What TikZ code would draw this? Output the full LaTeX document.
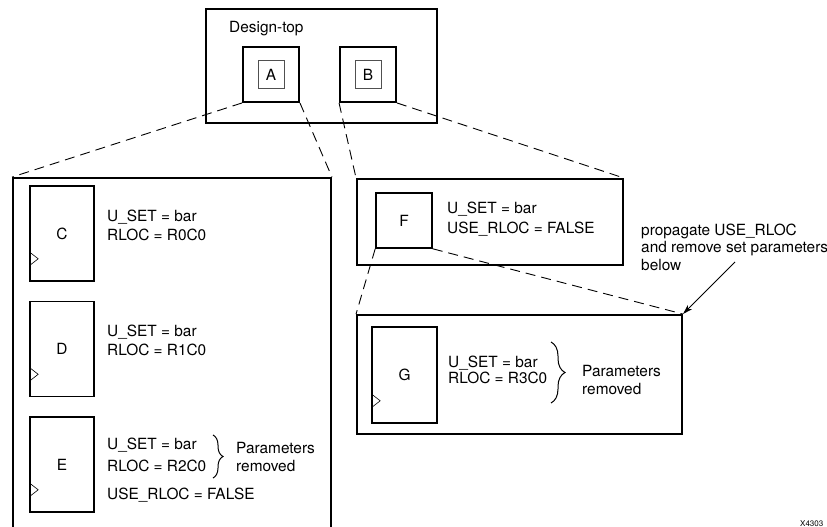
\documentclass[tikz,border=0pt]{standalone}
\usepackage{fontspec}
\setmainfont{TeX Gyre Heros}
\usetikzlibrary{positioning, arrows.meta, calc, decorations.pathreplacing}
\definecolor{LineColor}{RGB}{0,0,0}
\definecolor{InnerColor}{RGB}{80,80,80}
\tikzstyle{container} = [draw=LineColor, line width=1.9pt, rectangle, inner sep=0pt]
\tikzstyle{cell} = [draw=LineColor, line width=1.6pt, rectangle, inner sep=0pt, minimum width=64pt, minimum height=95pt, font=\fontsize{15.4}{18}\selectfont]
\tikzstyle{inst} = [draw=InnerColor, line width=1pt, rectangle, inner sep=0pt, minimum width=26pt, minimum height=27pt, font=\fontsize{15.4}{18}\selectfont]
\tikzstyle{zoomline} = [LineColor, line width=0.9pt, dash pattern=on 10pt off 6pt]
\tikzstyle{pointer} = [LineColor, line width=0.9pt, -{Stealth[length=10pt,width=6pt]}]
\tikzset{
  param/.style={anchor=base west, inner sep=0pt, font=\fontsize{15.4}{18}\selectfont},
  clock/.style={draw=LineColor, line width=0.6pt},
  curly/.style={decorate, decoration={brace, amplitude=#1}, line width=1pt}
}

\begin{document}
\begin{tikzpicture}[x=1pt, y=-1pt]
  \useasboundingbox (0,0) rectangle (827,527);

  % Design-top with instances A and B
  \node[container, minimum width=231pt, minimum height=114pt] (top) at (321.5,66) {};
  \node[param] (toplabel) at (229,33) {Design-top};
  \node[container, minimum width=56pt, minimum height=55pt] (Aout) at (271,74.5) {};
  \node[inst] (Ain) at (271,74.5) {A};
  \node[container, minimum width=56pt, minimum height=55pt] (Bout) at (368,74.5) {};
  \node[inst] (Bin) at (368,74.5) {B};

  % Contents of A
  \node[container, minimum width=318pt, minimum height=360pt] (Abox) at (172,358) {};
  \node[cell] (C) at (62,233.5) {C};
  \node[cell] (D) at (62,349) {D};
  \node[cell] (E) at (62,464.5) {E};
  \node[param] (Cset) at (107,221.5) {U\_SET = bar};
  \node[param] (Crloc) at (107,240.5) {RLOC = R0C0};
  \node[param] (Dset) at (107,336.5) {U\_SET = bar};
  \node[param] (Drloc) at (107,355.5) {RLOC = R1C0};
  \node[param] (Eset) at (107,449.5) {U\_SET = bar};
  \node[param] (Erloc) at (107,471.5) {RLOC = R2C0};
  \node[param] (Euse) at (107,499.5) {USE\_RLOC = FALSE};
  \draw[curly=10pt] (213,435) -- (213,478);
  \node[param] (Erem1) at (236,453) {Parameters};
  \node[param] (Erem2) at (236,471) {removed};

  % Contents of B
  \node[container, minimum width=266pt, minimum height=86pt] (Bbox) at (490,222) {};
  \node[cell, minimum width=56pt, minimum height=55pt] (F) at (404,220.5) {F};
  \node[param] (Fset) at (447,213) {U\_SET = bar};
  \node[param] (Fuse) at (447,233) {USE\_RLOC = FALSE};

  % Contents of F
  \node[container, minimum width=325pt, minimum height=119pt] (Fbox) at (519.5,374.5) {};
  \node[cell, minimum width=65pt, minimum height=96pt] (G) at (404.5,375) {G};
  \node[param] (Gset) at (448,367) {U\_SET = bar};
  \node[param] (Grloc) at (448,383) {RLOC = R3C0};
  \draw[curly=14pt] (551,342) -- (551,403);
  \node[param] (Grem1) at (582,376.5) {Parameters};
  \node[param] (Grem2) at (582,394) {removed};

  % Clock pins
  \foreach \c in {C,D,E,G}
    \draw[clock] ($(\c.south west)+(0,-30)$) -- ++(9,7) -- ++(-9,7);

  % Zoom lines
  \draw[zoomline] (Aout.south west) -- (Abox.north west);
  \draw[zoomline] (Aout.south east) -- (Abox.north east);
  \draw[zoomline] (Bout.south west) -- (Bbox.north west);
  \draw[zoomline] (Bout.south east) -- (Bbox.north east);
  \draw[zoomline] (F.south west) -- (Fbox.north west);
  \draw[zoomline] (F.south east) -- (Fbox.north east);

  % Note
  \node[param] (note1) at (641,235) {propagate USE\_RLOC};
  \node[param] (note2) at (641,252.5) {and remove set parameters};
  \node[param] (note3) at (641,270) {below};
  \coordinate (notetail) at (735,262);
  \draw[pointer] (notetail) -- (Fbox.north east);

  \node[anchor=base west, inner sep=0pt, font=\fontsize{8}{9}\selectfont] (fig) at (800,526) {X4303};
\end{tikzpicture}
\end{document}
